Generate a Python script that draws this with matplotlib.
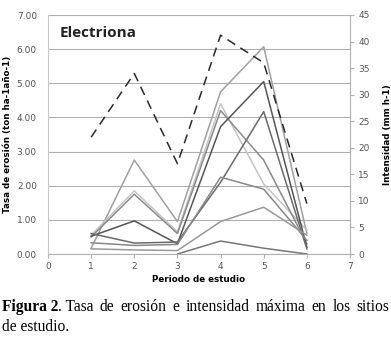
import numpy as np
import matplotlib
matplotlib.use("Agg")
import matplotlib.pyplot as plt
from matplotlib.ticker import FormatStrFormatter

periods = [1, 2, 3, 4, 5, 6]
s1 = [0.17, 2.75, 0.95, 4.75, 6.07, 0.60]
s2 = [0.55, 1.85, 0.65, 4.40, 2.05, 0.70]
s3 = [0.50, 1.75, 0.60, 4.20, 2.75, 0.30]
s4 = [0.52, 0.97, 0.30, 3.73, 5.05, 0.20]
s5 = [0.60, 0.32, 0.35, 2.10, 4.17, 0.15]
s6 = [0.33, 0.25, 0.28, 2.25, 1.90, 0.40]
s7 = [0.15, 0.12, 0.10, 0.95, 1.37, 0.55]
s8 = [np.nan, np.nan, 0.00, 0.38, 0.17, 0.00]
intensity = [22, 34, 17, 41.2, 36, 9.5]

erosion_series = [s1, s2, s3, s4, s5, s6, s7, s8]
colors = ["#a0a0a0", "#c4c4c4", "#8a8a8a", "#555555", "#6a6a6a", "#888888", "#999999", "#777777"]

W, H = 391, 355
fig = plt.figure(figsize=(W/100, H/100), dpi=100)
ax = fig.add_axes([48/W, 1-254/H, 302/W, 239/H])

for s, c in zip(erosion_series, colors):
    ax.plot(periods, s, color=c, lw=1.1, zorder=3)

ax.set_xlim(0, 7)
ax.set_ylim(0, 7)
ax.set_xticks(range(0, 8))
ax.set_yticks(np.arange(0, 7.01, 1))
ax.yaxis.set_major_formatter(FormatStrFormatter("%.2f"))
ax.grid(axis="y", color="#b0b0b0", lw=0.8, zorder=0)
for sp in ["top", "right"]:
    ax.spines[sp].set_visible(False)
ax.spines["left"].set_color("#c8c8c8")
ax.spines["bottom"].set_color("#b0b0b0")
ax.tick_params(axis="y", length=0, labelsize=6.5, labelcolor="#555555", pad=8)
ax.tick_params(axis="x", length=3, color="#b0b0b0", labelsize=6.5, labelcolor="#555555", pad=3)

ax2 = ax.twinx()
ax2.plot(periods, intensity, color="#2a2a2a", lw=1.1, dashes=(6, 4), zorder=4)
ax2.set_ylim(0, 45)
ax2.set_yticks(range(0, 46, 5))
for sp in ["top", "left", "bottom"]:
    ax2.spines[sp].set_visible(False)
ax2.spines["right"].set_color("#b0b0b0")
ax2.tick_params(axis="y", length=3, color="#b0b0b0", labelsize=6.5, labelcolor="#555555", pad=3)

ax.set_ylabel("Tasa de erosión (ton ha-1año-1)", fontsize=6.3, fontweight="bold")
ax.yaxis.set_label_coords((12-48)/302, 0.5)
ax2.set_ylabel("Intensidad (mm h-1)", fontsize=6.3, fontweight="bold")
ax2.yaxis.set_label_coords((383-48)/302, 0.5)
ax.set_xlabel("Periodo de estudio", fontsize=6.3, fontweight="bold")
ax.xaxis.set_label_coords((199-48)/302, (254-275)/239)

fig.text(60/W, 1-33/H, "Electriona", fontsize=11, fontweight="bold", family="Open Sans",
         va="center", ha="left", color="#222222")

# caption, justified first line
renderer = fig.canvas.get_renderer()
fs = 11.2
y1 = 1-307/H
t = fig.text(2/W, y1, "Figura 2", fontsize=fs, fontweight="bold", family="Liberation Serif",
             va="center", ha="left")
first_w = t.get_window_extent(renderer).width
words = [". Tasa", "de", "erosión", "e", "intensidad", "máxima", "en", "los", "sitios"]
widths = []
for w in words:
    tt = fig.text(0, 0, w, fontsize=fs, family="Liberation Serif")
    widths.append(tt.get_window_extent(renderer).width)
    tt.remove()
total = first_w + sum(widths)
gap = (389 - 2 - total) / (len(words) - 1)
x = 2 + first_w
for w, wd in zip(words, widths):
    fig.text(x/W, y1, w, fontsize=fs, family="Liberation Serif", va="center", ha="left")
    x += wd + gap
fig.text(2/W, 1-327/H, "de estudio.", fontsize=fs, family="Liberation Serif", va="center", ha="left")

fig.savefig("out.png", dpi=100)
